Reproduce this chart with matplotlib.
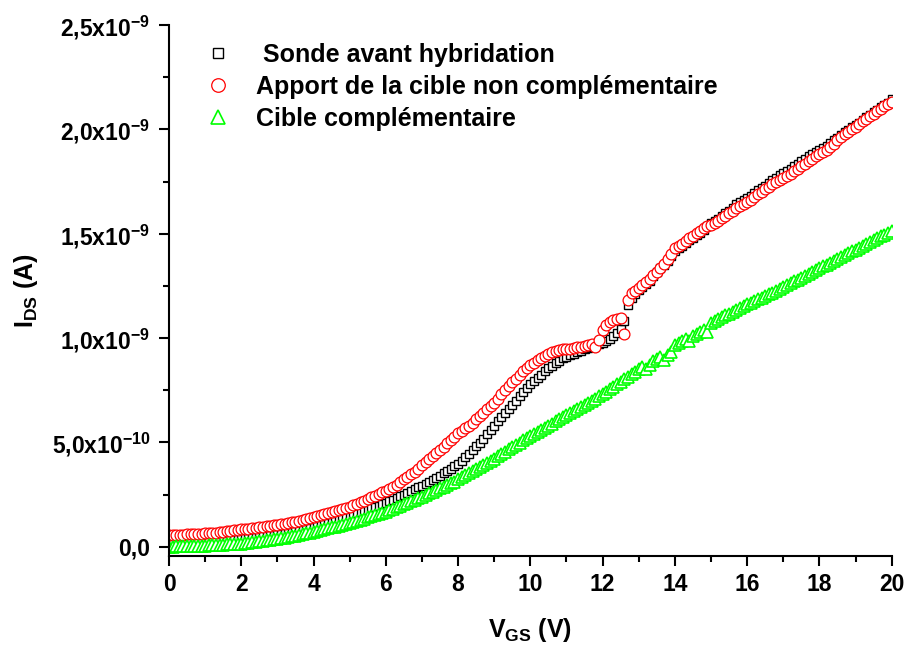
import matplotlib
matplotlib.use('Agg')
import matplotlib.pyplot as plt
from matplotlib.ticker import FuncFormatter, FixedLocator
import numpy as np

plt.rcParams['font.family'] = ['Liberation Sans', 'DejaVu Sans']
plt.rcParams['font.weight'] = 'bold'
plt.rcParams['axes.labelweight'] = 'bold'
plt.rcParams['mathtext.fontset'] = 'custom'
plt.rcParams['mathtext.rm'] = 'Liberation Sans:bold'
plt.rcParams['mathtext.bf'] = 'Liberation Sans:bold'
plt.rcParams['mathtext.default'] = 'bf'

# V_GS sweep, 0 to 20 V in 0.1 V steps
vgs = np.round(np.arange(0, 201) * 0.1, 1)

# I_DS, in units of 1e-10 A (one row per volt)
sonde = [
    0.15, 0.16, 0.17, 0.18, 0.19, 0.20, 0.21, 0.22, 0.23, 0.24,
    0.25, 0.26, 0.28, 0.29, 0.30, 0.32, 0.33, 0.35, 0.36, 0.38,
    0.40, 0.42, 0.44, 0.46, 0.48, 0.50, 0.52, 0.54, 0.56, 0.58,
    0.60, 0.63, 0.66, 0.69, 0.72, 0.75, 0.79, 0.83, 0.87, 0.91,
    0.96, 1.00, 1.05, 1.10, 1.15, 1.20, 1.25, 1.31, 1.37, 1.43,
    1.48, 1.54, 1.60, 1.66, 1.72, 1.78, 1.84, 1.90, 1.97, 2.03,
    2.10, 2.18, 2.26, 2.34, 2.42, 2.50, 2.58, 2.66, 2.75, 2.84,
    2.93, 3.02, 3.11, 3.21, 3.31, 3.41, 3.51, 3.62, 3.74, 3.86,
    3.98, 4.13, 4.29, 4.46, 4.63, 4.81, 4.99, 5.18, 5.38, 5.58,
    5.80, 6.00, 6.20, 6.40, 6.60, 6.80, 7.00, 7.20, 7.40, 7.60,
    7.80, 7.95, 8.10, 8.25, 8.40, 8.55, 8.68, 8.80, 8.92, 9.02,
    9.10, 9.17, 9.24, 9.31, 9.38, 9.45, 9.52, 9.58, 9.64, 9.70,
    9.76, 9.85, 9.95, 10.10, 10.25, 10.45, 10.80, 11.60, 11.90, 12.10,
    12.30, 12.45, 12.60, 12.75, 12.95, 13.15, 13.35, 13.50, 13.70, 13.95,
    14.15, 14.30, 14.42, 14.55, 14.68, 14.80, 14.92, 15.05, 15.20, 15.35,
    15.50, 15.60, 15.72, 15.85, 15.98, 16.10, 16.25, 16.40, 16.52, 16.62,
    16.72, 16.82, 16.95, 17.10, 17.20, 17.30, 17.42, 17.55, 17.68, 17.80,
    17.92, 18.02, 18.12, 18.22, 18.35, 18.48, 18.60, 18.70, 18.80, 18.90,
    19.00, 19.10, 19.22, 19.35, 19.48, 19.60, 19.72, 19.85, 19.98, 20.10,
    20.22, 20.32, 20.45, 20.58, 20.70, 20.82, 20.95, 21.05, 21.15, 21.28,
    21.45]

non_comp = [
    0.55, 0.56, 0.57, 0.57, 0.58, 0.59, 0.60, 0.61, 0.62, 0.63,
    0.64, 0.65, 0.66, 0.68, 0.70, 0.72, 0.74, 0.76, 0.78, 0.80,
    0.83, 0.85, 0.87, 0.89, 0.91, 0.93, 0.95, 0.98, 1.00, 1.02,
    1.05, 1.08, 1.11, 1.14, 1.17, 1.20, 1.24, 1.28, 1.32, 1.38,
    1.44, 1.48, 1.52, 1.57, 1.62, 1.67, 1.72, 1.77, 1.82, 1.87,
    1.92, 1.99, 2.06, 2.13, 2.20, 2.28, 2.36, 2.44, 2.52, 2.60,
    2.68, 2.78, 2.88, 2.98, 3.10, 3.22, 3.34, 3.46, 3.60, 3.74,
    3.90, 4.04, 4.18, 4.33, 4.48, 4.63, 4.78, 4.95, 5.12, 5.28,
    5.43, 5.55, 5.68, 5.80, 5.95, 6.10, 6.25, 6.42, 6.58, 6.74,
    6.90, 7.10, 7.30, 7.50, 7.70, 7.88, 8.05, 8.22, 8.40, 8.55,
    8.70, 8.82, 8.94, 9.05, 9.15, 9.25, 9.32, 9.38, 9.42, 9.45,
    9.47, 9.49, 9.52, 9.55, 9.58, 9.62, 9.68, 9.72, 9.58, 9.90,
    10.40, 10.60, 10.75, 10.85, 10.92, 10.98, 10.20, 11.80, 12.15, 12.25,
    12.40, 12.55, 12.70, 12.85, 13.00, 13.15, 13.35, 13.55, 13.80, 14.05,
    14.30, 14.40, 14.52, 14.65, 14.78, 14.90, 15.02, 15.15, 15.28, 15.35,
    15.42, 15.52, 15.62, 15.74, 15.86, 15.98, 16.10, 16.22, 16.34, 16.42,
    16.50, 16.62, 16.74, 16.88, 17.00, 17.12, 17.25, 17.38, 17.48, 17.58,
    17.68, 17.78, 17.88, 17.98, 18.10, 18.22, 18.35, 18.48, 18.60, 18.70,
    18.80, 18.90, 19.02, 19.15, 19.30, 19.48, 19.62, 19.76, 19.88, 20.00,
    20.12, 20.25, 20.38, 20.50, 20.62, 20.74, 20.86, 20.98, 21.10, 21.20,
    21.30]

comp = [
    0.00, 0.00, 0.01, 0.01, 0.02, 0.02, 0.03, 0.03, 0.04, 0.04,
    0.05, 0.06, 0.07, 0.08, 0.09, 0.10, 0.11, 0.12, 0.13, 0.14,
    0.15, 0.17, 0.19, 0.21, 0.23, 0.25, 0.28, 0.30, 0.32, 0.35,
    0.38, 0.41, 0.44, 0.47, 0.50, 0.53, 0.57, 0.61, 0.65, 0.68,
    0.72, 0.76, 0.80, 0.84, 0.88, 0.92, 0.96, 1.01, 1.06, 1.10,
    1.15, 1.20, 1.25, 1.30, 1.35, 1.41, 1.47, 1.53, 1.58, 1.63,
    1.68, 1.75, 1.82, 1.89, 1.96, 2.03, 2.10, 2.18, 2.26, 2.33,
    2.40, 2.48, 2.56, 2.64, 2.72, 2.80, 2.88, 2.96, 3.04, 3.12,
    3.22, 3.32, 3.42, 3.52, 3.62, 3.72, 3.82, 3.92, 4.02, 4.12,
    4.22, 4.33, 4.44, 4.55, 4.66, 4.77, 4.88, 4.99, 5.10, 5.20,
    5.30, 5.40, 5.50, 5.60, 5.70, 5.80, 5.90, 6.00, 6.10, 6.20,
    6.30, 6.40, 6.50, 6.60, 6.70, 6.80, 6.90, 7.00, 7.10, 7.20,
    7.30, 7.42, 7.54, 7.66, 7.78, 7.90, 8.02, 8.14, 8.26, 8.38,
    8.50, 8.62, 8.50, 8.72, 8.88, 9.00, 9.08, 8.95, 9.20, 9.35,
    9.65, 9.75, 9.85, 9.95, 9.85, 10.10, 10.20, 10.30, 10.40, 10.30,
    10.70, 10.80, 10.90, 11.00, 11.08, 11.16, 11.24, 11.34, 11.44, 11.53,
    11.62, 11.70, 11.78, 11.86, 11.94, 12.02, 12.10, 12.18, 12.26, 12.35,
    12.44, 12.53, 12.62, 12.71, 12.80, 12.89, 12.98, 13.07, 13.16, 13.25,
    13.34, 13.43, 13.52, 13.61, 13.70, 13.79, 13.88, 13.97, 14.06, 14.15,
    14.24, 14.33, 14.42, 14.51, 14.60, 14.69, 14.78, 14.87, 14.96, 15.04,
    15.12]

labels = [' Sonde avant hybridation',
          'Apport de la cible non complémentaire',
          'Cible complémentaire']

x_major = [0, 2, 4, 6, 8, 10, 12, 14, 16, 18, 20]
x_minor = [1, 3, 5, 7, 9, 11, 13, 15, 17, 19]
y_major = [0.0, 0.5e-9, 1.0e-9, 1.5e-9, 2.0e-9, 2.5e-9]
y_minor = [0.25e-9, 0.75e-9, 1.25e-9, 1.75e-9, 2.25e-9]

def sci_comma(v, pos):
    """Origin style tick label: 2,5x10^-9"""
    if abs(v) < 1e-15:
        return '0,0'
    exp = int(np.floor(np.log10(abs(v)) + 1e-9))
    mant = v / 10**exp
    return '{:.1f}'.format(mant).replace('.', ',') + 'x10$^{' + str(exp) + '}$'

fig = plt.figure(figsize=(9.1, 6.5), dpi=100)
ax = fig.add_axes([169 / 910, 94 / 650, 722.7 / 910, 531 / 650])

scale = 1e-10
ax.plot(vgs, np.array(sonde) * scale, ls='none', marker='s', ms=6.2,
        mfc='white', mec='black', mew=1.0, label=labels[0])
ax.plot(vgs, np.array(non_comp) * scale, ls='none', marker='o', ms=7.8,
        mfc='white', mec='#ff0000', mew=0.9, label=labels[1])
ax.plot(vgs, np.array(comp) * scale, ls='none', marker='^', ms=8.2,
        mfc='white', mec='#00ff00', mew=1.2, label=labels[2])

ax.set_xlim(0, 20)
ax.set_ylim(-0.0446e-9, 2.5e-9)

ax.xaxis.set_major_locator(FixedLocator(x_major))
ax.xaxis.set_minor_locator(FixedLocator(x_minor))
ax.yaxis.set_major_locator(FixedLocator(y_major))
ax.yaxis.set_minor_locator(FixedLocator(y_minor))
ax.yaxis.set_major_formatter(FuncFormatter(sci_comma))

for side in ('top', 'right'):
    ax.spines[side].set_visible(False)
for side in ('left', 'bottom'):
    ax.spines[side].set_linewidth(1.5)

ax.tick_params(which='major', direction='out', length=7.5, width=1.5,
               labelsize=16.5)
ax.tick_params(which='minor', direction='out', length=4, width=1.5)
ax.tick_params(axis='x', pad=5)
ax.tick_params(axis='y', pad=6)

ax.set_xlabel('V$_{GS}$ (V)', fontsize=18, fontweight='bold', labelpad=14)
ax.set_ylabel('I$_{DS}$ (A)', fontsize=18, fontweight='bold', labelpad=8)

ax.legend(loc='upper left', bbox_to_anchor=(0.051, 0.967), frameon=False,
          fontsize=18, handlelength=1.0, handletextpad=1.0,
          labelspacing=0.33, borderaxespad=0, borderpad=0, markerscale=1.25)

fig.savefig('out.png', dpi=100)
